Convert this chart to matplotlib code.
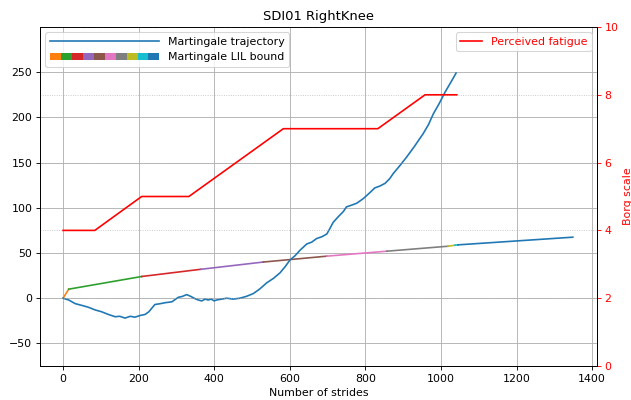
import matplotlib

matplotlib.use("Agg")
import matplotlib.pyplot as plt
from matplotlib.patches import Patch
from matplotlib.legend_handler import HandlerTuple
from matplotlib.lines import Line2D

# martingale trajectory (strides, value)
traj_x = [0, 15, 32, 50, 67, 85, 102, 120, 138, 150, 164, 178, 190, 205, 217, 227, 235,
          243, 258, 270, 288, 305, 316, 327, 338, 349, 358, 367, 376, 384, 392, 400, 406,
          420, 433, 450, 468, 485, 503, 520, 539, 557, 574, 588, 600, 614, 627, 645, 658,
          671, 685, 698, 706, 715, 728, 742, 750, 764, 777, 794, 810, 825, 838, 852, 864,
          874, 892, 909, 930, 953, 967, 980, 995, 1011, 1025, 1040]
traj_y = [0, -2, -6, -8, -10, -13, -15, -18, -20.5, -20, -22, -20, -21, -19, -18, -15, -11,
          -7, -6, -5, -4, 1, 2, 4, 2, -0.5, -2, -3, -1, -2, -1, -3, -2,
          -1, 0, -1, 0, 2, 5, 10, 17, 22, 28, 35, 42, 47, 53, 60, 62,
          66, 68, 71, 77, 84, 90, 96, 101, 103, 105, 110, 116, 122, 124, 127, 132,
          138, 147, 156, 168, 182, 192, 204, 215, 228, 238, 249]

# LIL bound, one colour per segment
bound_x = [0, 15, 208, 365, 530, 698, 857, 1019, 1037, 1045, 1349]
bound_y = [0, 10, 24, 32, 40, 46.5, 52, 57.5, 58.6, 59, 67.5]
bound_colors = ["C1", "C2", "C3", "C4", "C5", "C6", "C7", "C8", "C9", "C0"]

# perceived fatigue on Borg scale
fatigue_x = [0, 84, 208, 333, 583, 833, 958, 1042]
fatigue_y = [4, 4, 5, 5, 7, 7, 8, 8]

dpi = 78.875
fig = plt.figure(figsize=(631 / dpi, 400 / dpi), dpi=dpi)
ax = fig.add_axes([0.0634, 0.085, 0.8827, 0.8475])

ax.plot(traj_x, traj_y, color="C0", linewidth=1.5, zorder=3)
for i, color in enumerate(bound_colors):
    ax.plot(bound_x[i:i + 2], bound_y[i:i + 2], color=color, linewidth=1.5, zorder=2)

ax.set_xlim(-61, 1413)
ax.set_ylim(-75, 300)
ax.set_yticks([-50, 0, 50, 100, 150, 200, 250])
ax.set_xticks([0, 200, 400, 600, 800, 1000, 1200, 1400])
ax.set_xlabel("Number of strides")
ax.set_title("SDI01 RightKnee")
ax.grid(True)

handles = [Line2D([], [], color="C0", linewidth=1.5),
           tuple(Patch(facecolor=c) for c in bound_colors)]
ax.legend(handles, ["Martingale trajectory", "Martingale LIL bound"], loc="upper left",
          handlelength=10, handler_map={tuple: HandlerTuple(ndivide=None, pad=0)})

ax2 = ax.twinx()
ax2.plot(fatigue_x, fatigue_y, color="red", linewidth=1.5, label="Perceived fatigue")
ax2.set_ylim(0, 10)
ax2.set_ylabel("Borg scale", color="red")
ax2.tick_params(axis="y", colors="red")
ax2.grid(True, linestyle=":", alpha=0.8)
leg2 = ax2.legend(loc="upper right")
for text in leg2.get_texts():
    text.set_color("red")

fig.savefig("out.png", dpi=dpi)
